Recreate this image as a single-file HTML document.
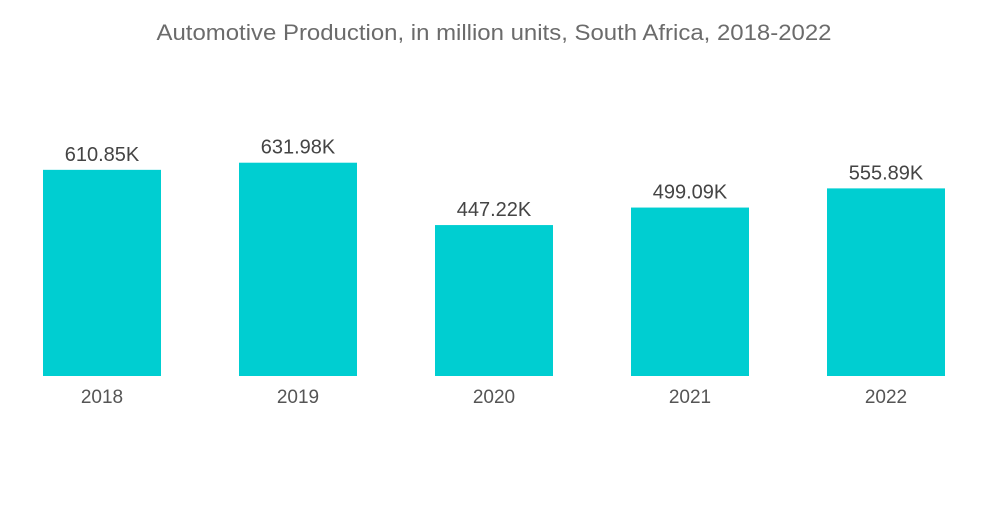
<!DOCTYPE html>
<html>
<head>
<meta charset="utf-8">
<style>
  html,body{margin:0;padding:0;background:#fff;}
  body{width:1000px;height:504px;overflow:hidden;font-family:"Liberation Sans",sans-serif;}
</style>
</head>
<body>
<svg id="chart" width="1000" height="504" viewBox="0 0 1000 504" xmlns="http://www.w3.org/2000/svg">
  <text x="494" y="40" text-anchor="middle" textLength="675" lengthAdjust="spacingAndGlyphs" font-family="Liberation Sans, sans-serif" font-size="22" fill="#6b6b6b">Automotive Production, in million units, South Africa, 2018-2022</text>
  <g id="bars"></g>
</svg>
<script>
const categories = ["2018","2019","2020","2021","2022"];
const values = [610.85, 631.98, 447.22, 499.09, 555.89];
const valueLabels = ["610.85K","631.98K","447.22K","499.09K","555.89K"];

const baseY = 376, pxPerUnit = 0.3375;
const firstX = 43, step = 196, barW = 118;
function xPos(i){ return firstX + i*step; }
function yPos(v){ return baseY - v*pxPerUnit; }

const g = document.getElementById('bars');
const ns = "http://www.w3.org/2000/svg";
categories.forEach((c,i)=>{
  const x = xPos(i), y = yPos(values[i]);
  const r = document.createElementNS(ns,'rect');
  r.setAttribute('x',x); r.setAttribute('y',y);
  r.setAttribute('width',barW); r.setAttribute('height',baseY-y);
  r.setAttribute('fill','#00ced1');
  
  
  g.appendChild(r);

  const t = document.createElementNS(ns,'text');
  t.setAttribute('x',x+barW/2); t.setAttribute('y',y-9);
  t.setAttribute('text-anchor','middle');
  t.setAttribute('font-size','20');
  t.setAttribute('fill','#444');
  t.textContent = valueLabels[i];
  
  
  g.appendChild(t);

  const l = document.createElementNS(ns,'text');
  l.setAttribute('x',x+barW/2); l.setAttribute('y',403);
  l.setAttribute('text-anchor','middle');
  l.setAttribute('font-size','19');
  l.setAttribute('fill','#555');
  l.textContent = c;
  
  
  g.appendChild(l);
});
</script>
</body>
</html>
